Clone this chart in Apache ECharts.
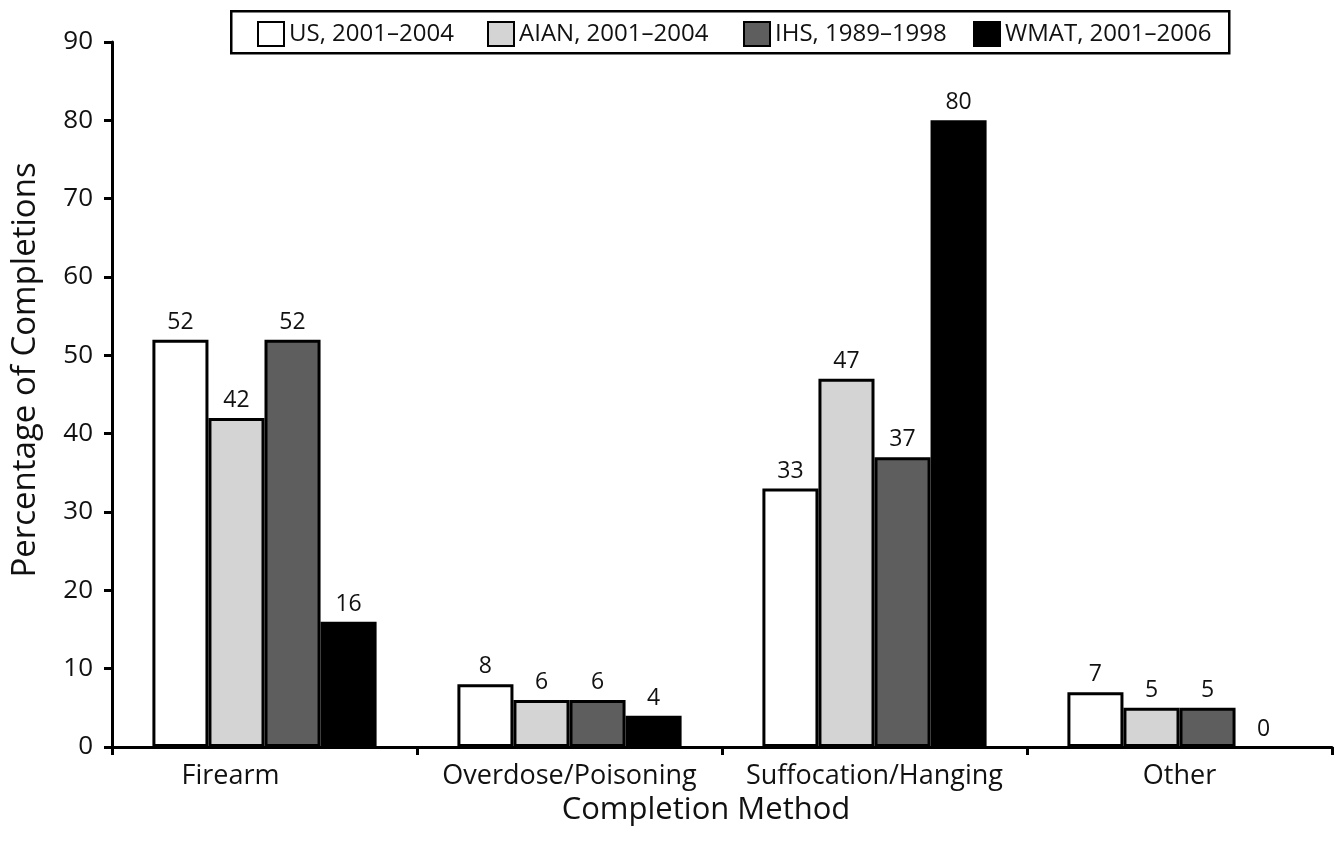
<!DOCTYPE html>
<html><head><meta charset="utf-8">
<script src="https://cdn.jsdelivr.net/npm/echarts@6/dist/echarts.min.js"></script>
<style>html,body{margin:0;padding:0;background:#fff}#c{width:1340px;height:855px}</style>
</head><body><div id="c"></div>
<script>
const categories = ['Firearm', 'Overdose/Poisoning', 'Suffocation/Hanging', 'Other'];
const seriesNames = ['US, 2001–2004', 'AIAN, 2001–2004', 'IHS, 1989–1998', 'WMAT, 2001–2006'];
const usValues = [52, 8, 33, 7];
const aianValues = [42, 6, 47, 5];
const ihsValues = [52, 6, 37, 5];
const wmatValues = [16, 4, 80, 0];
const yTicks = [0, 10, 20, 30, 40, 50, 60, 70, 80, 90];

const colors = ['#ffffff', '#d4d4d4', '#5e5e5e', '#000000'];
const values = [usValues, aianValues, ihsValues, wmatValues];
const legendLefts = [257, 487, 743, 973];
const font = 'Open Sans, Noto Sans, sans-serif';

const chart = echarts.init(document.getElementById('c'));
chart.setOption({
  animation: false,
  backgroundColor: '#fff',
  graphic: [{
    type: 'rect', left: 230, top: 10, z: 0,
    shape: { width: 998, height: 42 },
    style: { fill: '#fff', stroke: '#000', lineWidth: 2.5 }
  }],
  legend: seriesNames.map((n, i) => ({
    top: 21, left: legendLefts[i], data: [n],
    itemWidth: 26, itemHeight: 24, itemGap: 5, padding: 0,
    icon: 'rect', z: 5,
    textStyle: { fontFamily: font, fontSize: 24, color: '#111' }
  })),
  grid: { left: 112, right: 8, top: 42, bottom: 108 },
  xAxis: {
    type: 'category', data: categories,
    name: 'Completion Method', nameLocation: 'middle', nameGap: 48,
    nameTextStyle: { fontFamily: font, fontSize: 31, color: '#111', padding: [0, 32, 0, 0] },
    axisLine: { lineStyle: { color: '#000', width: 3 } },
    axisTick: { show: true, interval: 0, length: 8, lineStyle: { color: '#000', width: 3 } },
    axisLabel: {
      interval: 0, hideOverlap: false,
      fontFamily: font, fontSize: 27, color: '#111', margin: 16,
      formatter: (v, i) => i === 0 ? '{a|' + v + '}' : v,
      rich: { a: { fontFamily: font, fontSize: 27, color: '#111', padding: [0, 68, 0, 0] } }
    }
  },
  yAxis: {
    type: 'value', min: 0, max: 90, interval: 10,
    name: 'Percentage of Completions', nameLocation: 'middle', nameGap: 70, nameRotate: 90,
    nameTextStyle: { fontFamily: font, fontSize: 33, color: '#111', padding: [0, 0, 0, 49] },
    axisLine: { show: true, lineStyle: { color: '#000', width: 3 } },
    axisTick: { show: true, length: 8, lineStyle: { color: '#000', width: 3 } },
    axisLabel: { fontFamily: font, fontSize: 26, color: '#111', margin: 19,
      formatter: v => yTicks.includes(v) ? String(v) : '' },
    splitLine: { show: false }
  },
  series: seriesNames.map((n, i) => ({
    name: n, type: 'bar',
    data: values[i].map(v => v === 0 ? { value: v, itemStyle: { borderWidth: 0 } } : v),
    barGap: '0%', barCategoryGap: '26.5%',
    itemStyle: { color: colors[i], borderColor: '#000', borderWidth: 3 },
    label: { show: true, position: 'top', distance: 6, fontFamily: font, fontSize: 23, color: '#111' }
  }))
});
</script></body></html>
